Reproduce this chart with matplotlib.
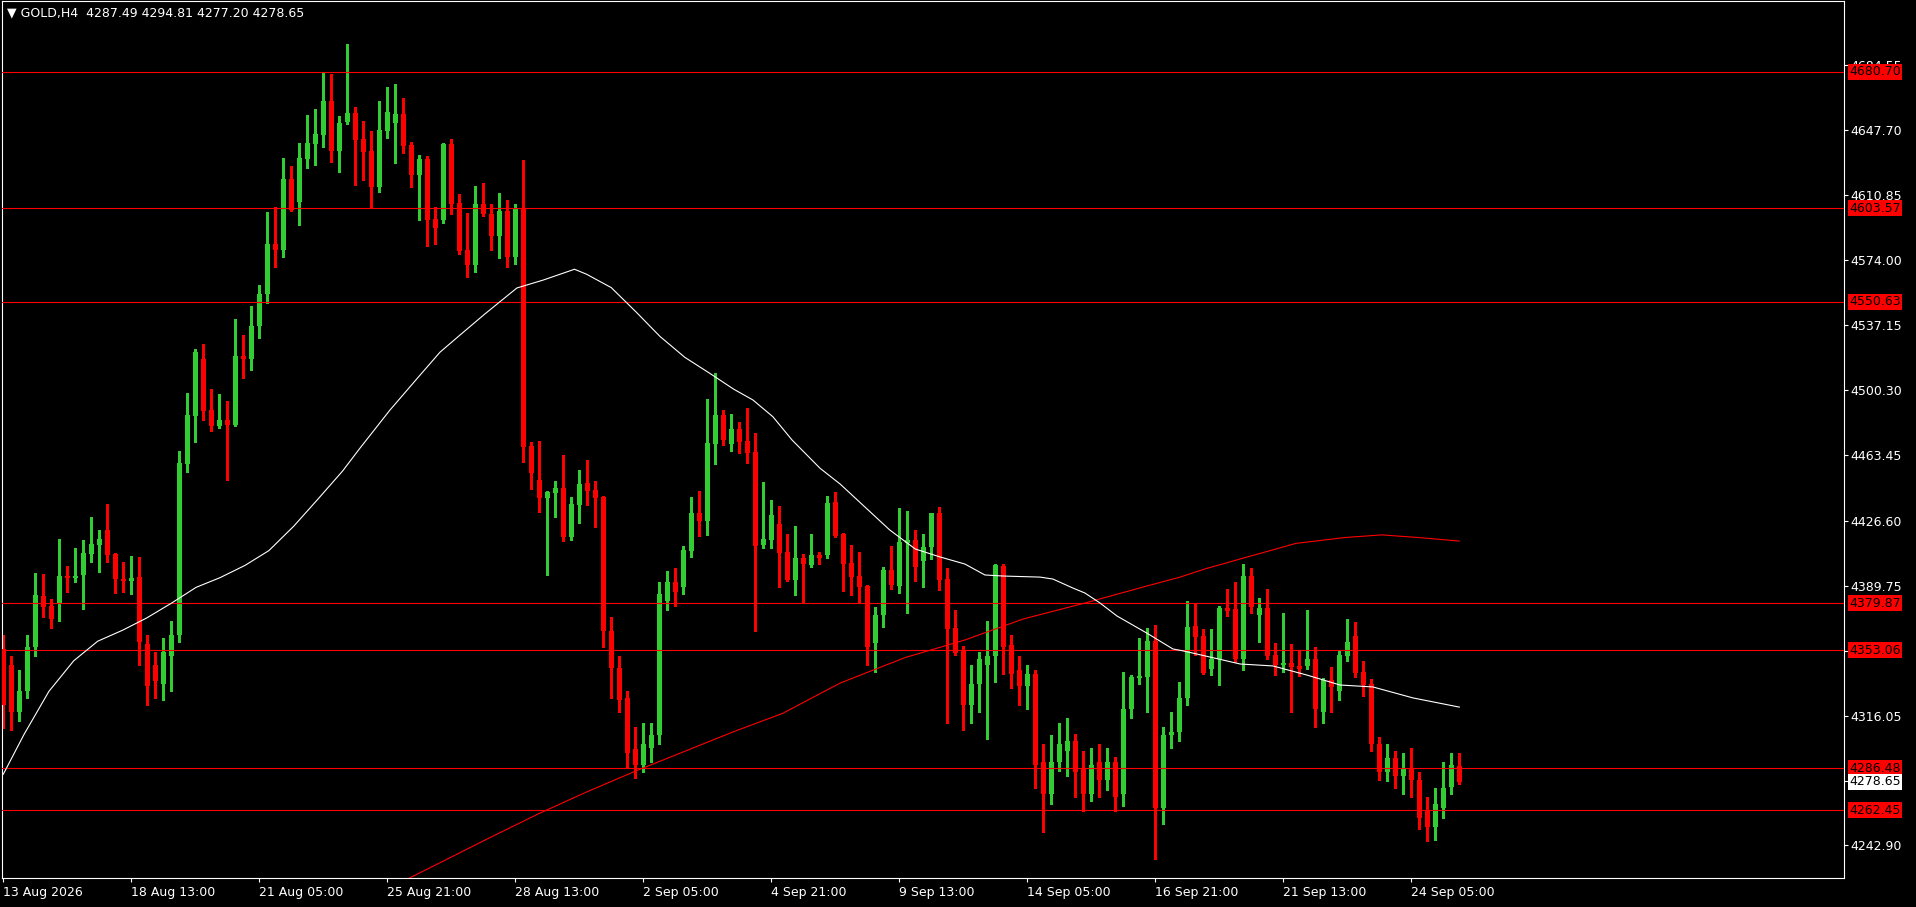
import matplotlib
matplotlib.use("Agg")
import matplotlib.pyplot as plt
import matplotlib.transforms as mtransforms
import numpy as np

plt.rcParams["font.family"] = ["DejaVu Sans"]
plt.rcParams["font.size"] = 9

# GOLD H4 candles (one entry per bar, oldest first)
opens = [
    4354, 4345, 4318, 4330, 4355, 4383.9, 4378.2, 4379.4, 4395.2, 4394.1,
    4395.7, 4407.7, 4412.8, 4421.3, 4407.7, 4393.5, 4392.4, 4394.6, 4357, 4345,
    4334, 4350, 4362, 4458.6, 4485.8, 4518.1, 4489.2, 4480.1, 4483.6, 4480.7,
    4519.8, 4518, 4537, 4555, 4583, 4580, 4620, 4607, 4631.3, 4639.8,
    4644.9, 4664.2, 4635.9, 4652.3, 4657.4, 4642.7, 4635.9, 4615.5, 4647.2, 4651.7,
    4656.8, 4639.3, 4622.3, 4631.3, 4597.3, 4596.8, 4639.8, 4606.4, 4579.8, 4571.3,
    4605.9, 4600, 4588, 4602, 4576, 4603, 4468.8, 4449.6, 4439.4, 4442.2,
    4445.1, 4417.3, 4435.4, 4447.9, 4443.9, 4440, 4364, 4343, 4326, 4297,
    4288, 4298, 4305, 4381, 4392, 4389, 4409.4, 4430.9, 4426.4, 4470,
    4486.4, 4470, 4478.5, 4471.7, 4465.4, 4412.8, 4415.6, 4424.7, 4408.8, 4393,
    4405.4, 4401.5, 4407.1, 4407.1, 4437.1, 4419, 4402.6, 4395.2, 4389.6, 4357.3,
    4373.2, 4398.6, 4389.6, 4414, 4415.6, 4403.7, 4411.6, 4430.9, 4393.5, 4365.8,
    4353.3, 4322, 4334, 4345, 4350, 4400.9, 4356, 4342, 4333, 4340,
    4290, 4272, 4290, 4296, 4302, 4286, 4272, 4290, 4280, 4290,
    4272, 4320, 4337.5, 4338, 4358.4, 4264, 4305, 4307, 4326, 4366.9,
    4361.2, 4342.6, 4348.2, 4377.1, 4376.5, 4348.2, 4395, 4373.2, 4377.1, 4350.5,
    4344.8, 4346, 4344.3, 4344.3, 4348.2, 4318, 4336.4, 4330, 4349.9, 4361.2,
    4340.9, 4334, 4300, 4284, 4292, 4282, 4286, 4280, 4262, 4253,
    4264, 4276, 4287.49,
]
highs = [
    4362, 4350, 4342, 4362, 4396.9, 4396.4, 4382.2, 4416.2, 4400.9, 4411.1,
    4415.6, 4428.6, 4421.3, 4436.0, 4408.5, 4403.2, 4406.6, 4406, 4362, 4352,
    4360, 4370, 4466, 4498.9, 4523.8, 4526.6, 4501.1, 4498.3, 4494.3, 4540.7,
    4531.7, 4548, 4560, 4601.3, 4604.2, 4631.9, 4627.4, 4640.4, 4656.2, 4659.6,
    4680, 4679.5, 4655.7, 4696.4, 4660.8, 4652.9, 4647.2, 4664, 4672, 4674,
    4666, 4641, 4633.6, 4633, 4604.2, 4640.4, 4642.7, 4611.5, 4600.7, 4616,
    4617.7, 4606, 4612, 4608, 4606, 4631, 4471.1, 4471.7, 4443.4, 4449,
    4463.7, 4440, 4455.2, 4460.9, 4449, 4440.5, 4372, 4350, 4330, 4310,
    4312, 4312, 4392, 4398, 4400, 4412.2, 4440, 4443.4, 4495.5, 4510,
    4489.2, 4487, 4482.4, 4490.4, 4476.2, 4448.4, 4438.3, 4434.9, 4419, 4423.6,
    4407.7, 4419, 4408.8, 4440.5, 4442.8, 4419.6, 4412.8, 4408.8, 4390.1, 4377.7,
    4400.3, 4412.2, 4433.7, 4432, 4421.3, 4419, 4431, 4434.3, 4399.8, 4376,
    4355.6, 4345, 4352, 4370, 4402, 4402, 4362, 4350, 4345, 4342,
    4300, 4305, 4312, 4315, 4306, 4296, 4298, 4300, 4298, 4293,
    4340.9, 4339.2, 4360.1, 4365.8, 4367.5, 4310, 4318, 4335.2, 4381.1, 4379.4,
    4365.2, 4365.2, 4378, 4388, 4392, 4402, 4400, 4382.8, 4388, 4357.3,
    4374.3, 4356.7, 4352.8, 4376, 4355, 4337.5, 4343.7, 4352.8, 4370.9, 4369.2,
    4347.1, 4337, 4304, 4300, 4296, 4295, 4298, 4284, 4270, 4275,
    4290, 4295, 4294.81,
]
lows = [
    4309, 4308, 4313, 4326, 4350, 4372, 4366, 4370, 4386.2, 4391.8,
    4376.6, 4403.2, 4397.5, 4403.2, 4385.4, 4386.2, 4385, 4345, 4322, 4326,
    4325, 4330, 4358, 4454.1, 4471.1, 4483.6, 4477.3, 4479, 4449.6, 4480,
    4507.3, 4512, 4530, 4550, 4570, 4576, 4601.9, 4594, 4626.2, 4627.9,
    4638.1, 4629.6, 4624, 4651.2, 4616.6, 4619.4, 4604.2, 4612.6, 4643.2, 4629,
    4634.7, 4615.5, 4596.8, 4582.1, 4583.2, 4595.1, 4600.2, 4577.5, 4564.5, 4567.3,
    4599, 4580, 4575, 4570, 4572, 4459.8, 4444.5, 4431.5, 4395.8, 4428.6,
    4415, 4415.6, 4425.2, 4435.4, 4423, 4355, 4326, 4318, 4287, 4281,
    4284, 4290, 4300, 4376, 4378, 4385, 4406, 4417.9, 4418.4, 4458.6,
    4469.4, 4466, 4464.9, 4459.2, 4364, 4411.1, 4411.1, 4389, 4392.4, 4384.5,
    4380.5, 4400.3, 4402, 4405.4, 4417.3, 4386.7, 4384.5, 4380, 4344.8, 4340.9,
    4366.3, 4387.9, 4385.6, 4374.3, 4392.4, 4389, 4404.9, 4387.3, 4312, 4350.5,
    4308, 4312, 4318, 4303, 4335, 4340, 4332, 4322, 4320, 4275,
    4250, 4266, 4285, 4282, 4270, 4262, 4268, 4270, 4274, 4262,
    4265, 4315, 4334, 4318, 4235, 4255, 4298, 4302, 4322, 4350.5,
    4339.8, 4339.2, 4333.5, 4372.6, 4346.5, 4342, 4374.3, 4357.8, 4348.2, 4339.2,
    4340.9, 4318, 4338.6, 4342.6, 4310, 4312, 4318, 4325, 4347.1, 4338,
    4327.3, 4296, 4280, 4279, 4275, 4272, 4270, 4252, 4245, 4246,
    4258, 4272, 4277.20,
]
closes = [
    4322, 4318, 4330, 4355, 4384.5, 4377.7, 4371, 4395.2, 4394.1, 4395.2,
    4408.3, 4413.3, 4416.2, 4407.2, 4393.5, 4392.4, 4394, 4358, 4333, 4336,
    4352, 4362, 4459.2, 4486.4, 4522.1, 4488.6, 4480.1, 4483.6, 4480.7, 4519.8,
    4518.1, 4537, 4555, 4583, 4580, 4620, 4602.5, 4631.9, 4640.4, 4645.5,
    4664.2, 4635.9, 4651.7, 4657.4, 4642.1, 4635.3, 4615.5, 4647.7, 4658, 4656.8,
    4638.7, 4622.3, 4631.3, 4596.8, 4592.3, 4639.8, 4605.9, 4579.2, 4571.3, 4605.9,
    4600.2, 4588, 4602, 4576, 4603, 4468.3, 4453.6, 4439.4, 4442.8, 4445.1,
    4417.3, 4436, 4447.3, 4443.4, 4439.4, 4364.1, 4343, 4325, 4295, 4288,
    4300, 4305, 4385, 4392, 4386, 4410, 4430.9, 4426.4, 4470.5, 4486.4,
    4472.2, 4478.5, 4471.1, 4464.9, 4412.2, 4416.2, 4429.8, 4408.3, 4393, 4405.4,
    4402, 4407.1, 4405.4, 4436.6, 4417.9, 4402, 4394.6, 4389, 4355, 4373.2,
    4398.6, 4390.1, 4414.5, 4415.6, 4400.3, 4411.6, 4430.9, 4393, 4365.2, 4351.6,
    4322, 4334, 4348, 4350, 4401.5, 4355, 4340, 4333, 4340, 4288,
    4272, 4290, 4300, 4302, 4284, 4272, 4288, 4280, 4290, 4270,
    4320, 4338, 4338.6, 4358.4, 4264, 4305, 4307, 4326, 4366.3, 4360.7,
    4340.3, 4348.2, 4377.1, 4375.4, 4348.2, 4395, 4377.7, 4377.1, 4349.9, 4344.8,
    4346, 4343.7, 4342.6, 4348.2, 4320, 4336.4, 4332.4, 4350.5, 4357.8, 4340.3,
    4333.5, 4300, 4284, 4292, 4282, 4286, 4280, 4258, 4253, 4266,
    4275, 4288, 4278.65,
]

# moving averages (bar index, price)
fast_ma_bar = [0, 2.6, 5.7, 8.8, 11.8, 14.9, 17.9, 21, 24.1, 27.1, 30.2, 33.2, 36.3,
               39.3, 42.4, 44.6, 48.3, 52.1, 54.6, 57.1, 60.2, 64.2, 67.5, 71.4, 72.9,
               76, 79.1, 82.1, 85.2, 88.3, 91.3, 93.7, 96.2, 98.6, 102.1, 104.6, 110.8,
               114, 117.1, 120.2, 122.7, 125, 129.6, 131.2, 133.7, 135.2, 137.1, 139.2,
               142.9, 146.2, 147.5, 150.2, 154.6, 158.7, 162.9, 167.1, 171.2, 176.2, 182]
fast_ma_val = [4283, 4305.6, 4329.9, 4347.2, 4358.3, 4364.5, 4371.4, 4379.8, 4388.8,
               4394.3, 4401.2, 4409.6, 4423.4, 4438.6, 4454.6, 4467.7, 4489, 4509, 4522,
               4531.7, 4543.6, 4558.3, 4562.8, 4568.9, 4566.1, 4558.5, 4544.7, 4530.8,
               4519, 4510, 4501, 4494.9, 4485.4, 4472.2, 4456.2, 4447.3, 4421.3, 4410.5,
               4406, 4402, 4395.8, 4395.2, 4394.6, 4393.5, 4388.4, 4385.6, 4379.9, 4372.6,
               4363, 4353.9, 4352.8, 4350, 4345.4, 4344.3, 4339.2, 4333.5, 4332.4, 4326.2,
               4321]
slow_ma_bar = [49, 50, 54.6, 60.7, 66.9, 73, 79.1, 85.2, 91.3, 97.4, 104.6, 112.7, 120.2,
               127.5, 135.2, 142.9, 147.1, 150.2, 155.5, 161.6, 167.7, 172.3, 176.9, 182]
slow_ma_val = [4215, 4222.5, 4232.9, 4246.8, 4260.6, 4273.1, 4284.9, 4296, 4307.1,
               4317.4, 4334.6, 4349, 4359, 4370.9, 4379.9, 4389.5, 4394.6, 4399.2, 4406,
               4413.7, 4417, 4418.5, 4417, 4415]

hlines = [4680.70, 4603.57, 4550.63, 4379.87, 4353.06, 4286.48, 4262.45]
price_labels = [4684.55, 4647.70, 4610.85, 4574.00, 4537.15, 4500.30, 4463.45,
                4426.60, 4389.75, 4352.90, 4316.05, 4279.20, 4242.90]
time_labels = ["13 Aug 2026", "18 Aug 13:00", "21 Aug 05:00", "25 Aug 21:00",
               "28 Aug 13:00", "2 Sep 05:00", "4 Sep 21:00", "9 Sep 13:00",
               "14 Sep 05:00", "16 Sep 21:00", "21 Sep 13:00", "24 Sep 05:00"]
time_label_bar = [0, 16, 32, 48, 64, 80, 96, 112, 128, 144, 160, 176]
last_price = 4278.65

GREEN = "#32CD32"
RED = "#FF0000"

W, H = 1916, 907
fig = plt.figure(figsize=(W / 100, H / 100), dpi=100, facecolor="black")
ax = fig.add_axes([2 / W, 29 / H, 1842 / W, 877 / H])
ax.set_facecolor("black")

o = np.array(opens)
c = np.array(closes)
idx = np.arange(len(o))
cols = [GREEN if cc >= oo else RED for oo, cc in zip(o, c)]
body_lo = np.minimum(o, c)
body_h = np.maximum(np.abs(c - o), 0.6)

ax.vlines(idx, lows, highs, colors=cols, linewidth=0.8, zorder=2, antialiased=False)
ax.bar(idx, body_h, bottom=body_lo, width=0.625, color=cols, linewidth=0,
       zorder=3, antialiased=False)

for lv in hlines:
    ax.axhline(lv, color=RED, linewidth=0.8, zorder=4)

ax.plot(slow_ma_bar, slow_ma_val, color=RED, linewidth=0.8, zorder=5)
ax.plot(fast_ma_bar, fast_ma_val, color="white", linewidth=0.8, zorder=5)

xmin = -1.3 / 8
ax.set_xlim(xmin, xmin + 1842 / 8)
ax.set_ylim(4684.55 - 813 * 0.5662, 4684.55 + 64 * 0.5662)

for sp in ax.spines.values():
    sp.set_color("white")
    sp.set_linewidth(0.8)

ax.yaxis.tick_right()
ax.set_yticks(price_labels)
ax.set_yticklabels([f"{v:.2f}" for v in price_labels])
ax.tick_params(axis="y", colors="white", length=3, width=0.8, pad=1.5, labelsize=9)

ax.set_xticks(time_label_bar)
ax.set_xticklabels(time_labels, ha="left")
ax.tick_params(axis="x", colors="white", length=3, width=0.8, pad=3, labelsize=9)

trans = mtransforms.blended_transform_factory(ax.transAxes, ax.transData)
for lv in hlines:
    ax.text(1 + 5 / 1842, lv, f"{lv:.2f}", transform=trans, color="black",
            va="center", ha="left", fontsize=9, clip_on=False, zorder=10,
            bbox=dict(boxstyle="square,pad=0.12", fc=RED, ec="none"))
ax.text(1 + 5 / 1842, last_price, f"{last_price:.2f}", transform=trans, color="black",
        va="center", ha="left", fontsize=9, clip_on=False, zorder=11,
        bbox=dict(boxstyle="square,pad=0.12", fc="white", ec="none"))

fig.text(7 / W, 1 - 13 / H, "\u25bc GOLD,H4  4287.49 4294.81 4277.20 4278.65",
         color="white", fontsize=9, va="center", ha="left")

fig.savefig("out.png", dpi=100, facecolor="black")
